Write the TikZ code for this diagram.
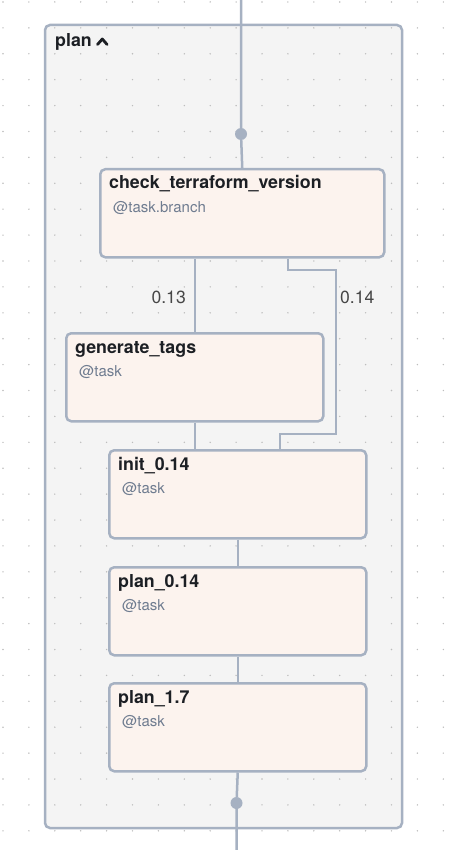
\documentclass[tikz,border=0pt]{standalone}
\usepackage{fontspec}
\setmainfont{TeX Gyre Heros}
\usetikzlibrary{positioning}
\definecolor{edgegray}{HTML}{A6B1C2}
\definecolor{groupfill}{HTML}{F4F4F4}
\definecolor{taskfill}{HTML}{FCF3EE}
\definecolor{titleblack}{HTML}{1C1F24}
\definecolor{subgray}{HTML}{6F7C90}
\definecolor{labelgray}{HTML}{474747}
\definecolor{dotgray}{HTML}{BDBDBD}
\tikzset{
  task/.style={draw=edgegray, line width=2.5pt, fill=taskfill, rounded corners=5pt,
    anchor=north west, inner sep=0pt, minimum height=88pt},
  tasktitle/.style={anchor=base west, inner sep=0pt, text=titleblack,
    font=\fontsize{17.8}{20}\selectfont\bfseries},
  taskdeco/.style={anchor=base west, inner sep=0pt, text=subgray,
    font=\fontsize{15}{18}\selectfont},
  link/.style={edgegray, line width=2.5pt},
  branchlabel/.style={inner sep=0pt, text=labelgray, font=\fontsize{17.6}{20}\selectfont},
  portdot/.style={circle, fill=edgegray, minimum size=12pt, inner sep=0pt},
}
\begin{document}
\begin{tikzpicture}[x=1pt, y=-1pt]
    \useasboundingbox (0,0) rectangle (448,850);
    % Group
    \draw[edgegray, line width=2.5pt, fill=groupfill, rounded corners=5pt] (45,25) rectangle (402,828);
    \node[tasktitle] (groupT) at (55,47) {plan};
    \draw[titleblack, line width=2.8pt, line cap=round, line join=round]
        ([xshift=5.5pt,yshift=2.5pt]groupT.base east) -- ++(4.8,-5.5) -- ++(4.8,5.5);
    % Grid
    \foreach \i in {0,...,17}
        \foreach \j in {0,...,32}
            \fill[dotgray] (3+25.9*\i, 2+25.9*\j) circle (0.8);
    % Tasks
    \node[task, minimum width=284pt] (check) at (99,168) {};
    \node[task, minimum width=257pt] (gen) at (65,332) {};
    \node[task, minimum width=257pt] (init) at (108,449) {};
    \node[task, minimum width=257pt] (plan14) at (108,566) {};
    \node[task, minimum width=257pt] (plan17) at (108,682) {};
    \foreach \t/\name/\deco in {check/check\_terraform\_version/@task.branch,
                               gen/generate\_tags/@task, init/init\_0.14/@task,
                               plan14/plan\_0.14/@task, plan17/plan\_1.7/@task} {
        \node[tasktitle] (\t T) at ([xshift=10pt,yshift=-21pt]\t.north west) {\name};
        \node[taskdeco] (\t D) at ([xshift=14pt,yshift=-44pt]\t.north west) {\deco};
    }
    % In and out
    \coordinate (inTop) at (241,0);
    \node[portdot] (inDot) at (241,134) {};
    \node[portdot] (outDot) at (236.5,803) {};
    \coordinate (outEnd) at (236.5,850);
    \draw[link] (inTop) -- (inDot) -- (check.north);
    \draw[link] (plan17.south) -- (outDot) -- (outEnd);
    % Branches
    \draw[link] (gen.north) -- (gen.north |- check.south);
    \coordinate (brA) at (288,270);
    \coordinate (brB) at (336,270);
    \coordinate (brC) at (336,434);
    \coordinate (brD) at (280,434);
    \draw[link] (brA |- check.south) -- (brA) -- (brB) -- (brC) -- (brD) -- (brD |- init.north);
    \node[branchlabel, anchor=east] (lbl13) at (186,297) {0.13};
    \node[branchlabel, anchor=west] (lbl14) at (340,297) {0.14};
    % Chain
    \draw[link] (gen.south) -- (gen.south |- init.north);
    \draw[link] (init.south) -- (plan14.north);
    \draw[link] (plan14.south) -- (plan17.north);
\end{tikzpicture}
\end{document}
